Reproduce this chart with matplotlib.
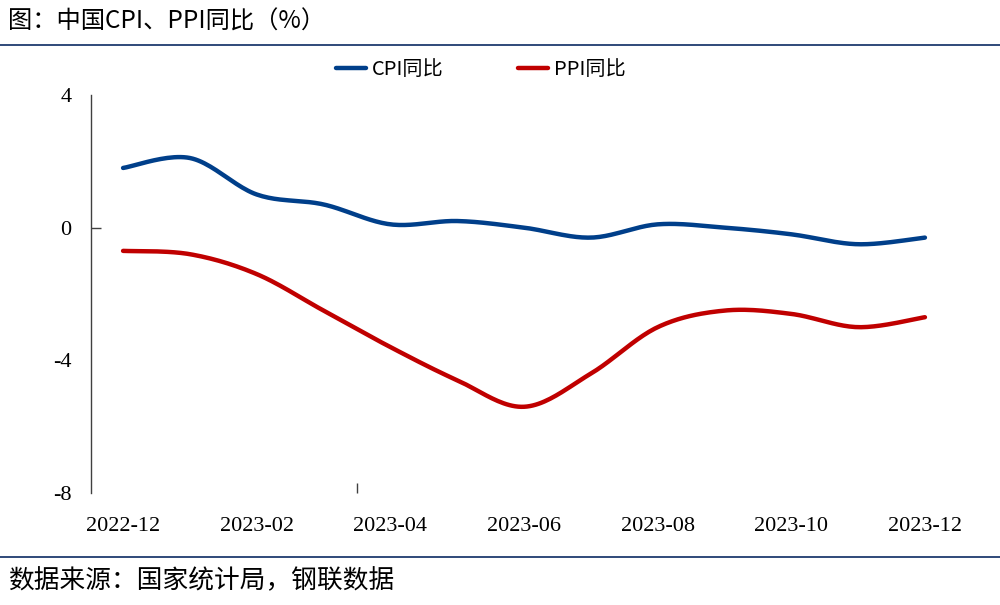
import numpy as np
import matplotlib
matplotlib.use('Agg')
import matplotlib.pyplot as plt
from matplotlib.lines import Line2D

plt.rcParams['font.family'] = ['Noto Sans CJK SC', 'DejaVu Sans']

meses = ['2022-12', '2023-01', '2023-02', '2023-03', '2023-04', '2023-05', '2023-06',
         '2023-07', '2023-08', '2023-09', '2023-10', '2023-11', '2023-12']
cpi = [1.8, 2.1, 1.0, 0.7, 0.1, 0.2, 0.0, -0.3, 0.1, 0.0, -0.2, -0.5, -0.3]
ppi = [-0.7, -0.8, -1.4, -2.5, -3.6, -4.6, -5.4, -4.4, -3.0, -2.5, -2.6, -3.0, -2.7]
yticks = [-8, -4, 0, 4]

azul = '#003F8A'
vermelho = '#C00000'
cor_linha = '#1F3B6E'


def suaviza(y, n=24):
    # curva suavizada tipo Excel (Bezier / Catmull-Rom)
    y = np.asarray(y, dtype=float)
    x = np.arange(len(y), dtype=float)
    xs, ys = [], []
    for i in range(len(y) - 1):
        i0 = max(i - 1, 0)
        i3 = min(i + 2, len(y) - 1)
        p0 = np.array([x[i0], y[i0]])
        p1 = np.array([x[i], y[i]])
        p2 = np.array([x[i + 1], y[i + 1]])
        p3 = np.array([x[i3], y[i3]])
        c1 = p1 + (p2 - p0) / 6
        c2 = p2 - (p3 - p1) / 6
        t = np.linspace(0, 1, n)[:, None]
        b = (1 - t) ** 3 * p1 + 3 * (1 - t) ** 2 * t * c1 + 3 * (1 - t) * t ** 2 * c2 + t ** 3 * p2
        xs.append(b[:, 0])
        ys.append(b[:, 1])
    return np.concatenate(xs), np.concatenate(ys)


fig = plt.figure(figsize=(10, 6.05), dpi=100)
ax = fig.add_axes([0.091, 0.1851, 0.866, 0.6579])

xc, yc = suaviza(cpi)
xp, yp = suaviza(ppi)
ax.plot(xc, yc, color=azul, lw=3.2, solid_capstyle='round', label='CPI同比')
ax.plot(xp, yp, color=vermelho, lw=3.2, solid_capstyle='round', label='PPI同比')

ax.set_xlim(-0.48, 12.48)
ax.set_ylim(-8, 4)
ax.set_yticks(yticks)
ax.set_yticklabels([str(v) for v in yticks], family='Liberation Serif', fontsize=16)
pos = list(range(0, len(meses), 2))
ax.set_xticks(pos)
ax.set_xticklabels([meses[i] for i in pos], family='Liberation Serif', fontsize=16)
ax.tick_params(axis='both', which='major', length=0)
ax.tick_params(axis='y', pad=14)
ax.tick_params(axis='x', pad=17)

# marcas pequenas como no original
ax.yaxis.remove_overlapping_locs = False
ax.set_yticks([0], minor=True)
ax.set_xticks([3.5], minor=True)
ax.tick_params(axis='both', which='minor', direction='in', length=7, width=1, color='#404040')

for lado in ['top', 'right', 'bottom']:
    ax.spines[lado].set_visible(False)
ax.spines['left'].set_color('#404040')
ax.spines['left'].set_linewidth(1)

leg = ax.legend(loc='center', bbox_to_anchor=(0.45, 1.063), ncol=2, frameon=False,
                fontsize=14.5, handlelength=1.5, columnspacing=3.7, handletextpad=0.3)

fig.text(0.008, 1 - 22 / 605, '图：中国CPI、PPI同比（%）', fontsize=17.5, va='center', ha='left')
fig.text(0.008, 1 - 581 / 605, '数据来源：国家统计局，钢联数据', fontsize=18.5, va='center', ha='left')
fig.add_artist(Line2D([0, 1], [1 - 45 / 605] * 2, color=cor_linha, lw=1.3, transform=fig.transFigure))
fig.add_artist(Line2D([0, 1], [1 - 557 / 605] * 2, color=cor_linha, lw=1.3, transform=fig.transFigure))

fig.savefig('out.png', dpi=100)
